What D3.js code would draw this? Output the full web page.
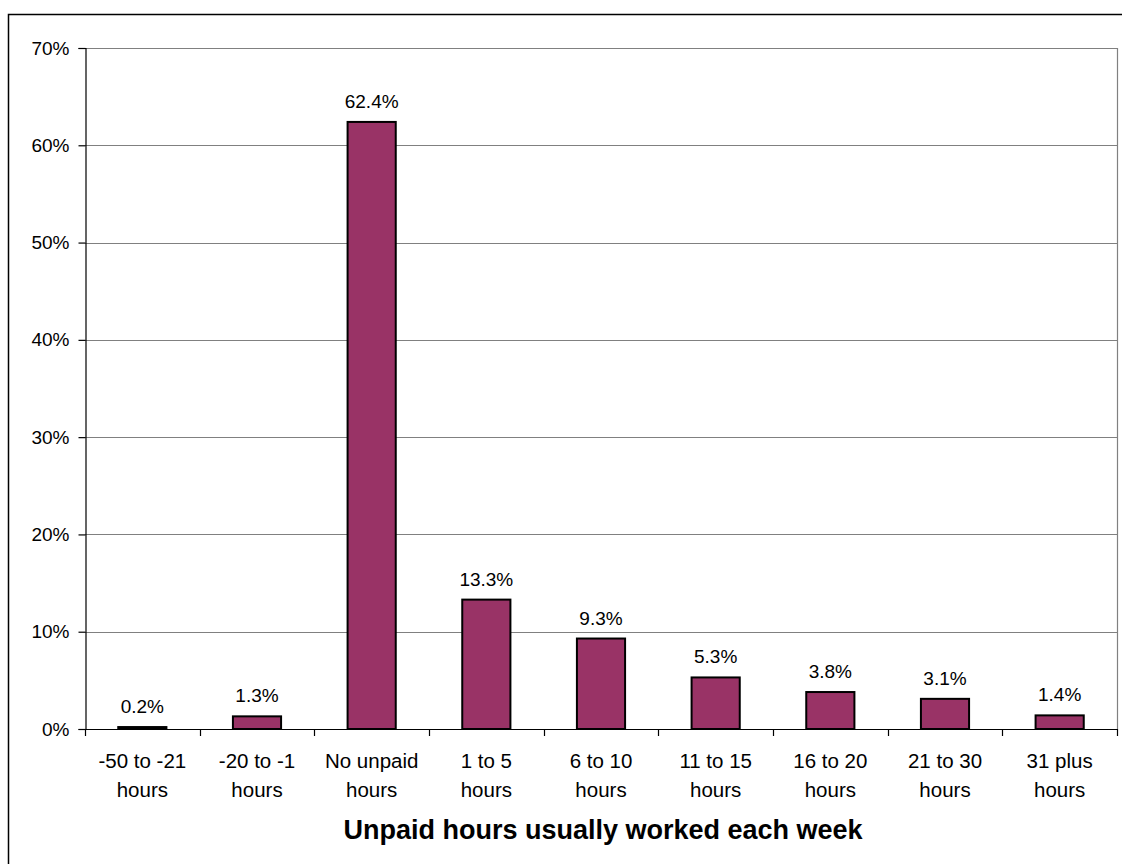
<!DOCTYPE html>
<html>
<head>
<meta charset="utf-8">
<script src="https://cdn.jsdelivr.net/npm/d3@7"></script>
<style>
  html, body { margin: 0; padding: 0; background: #fff; }
  svg { display: block; font-family: "Liberation Sans", Arial, sans-serif; }
</style>
</head>
<body>
<svg id="chart" width="1122" height="864"></svg>
<script>
// Share of employees by unpaid hours usually worked each week
const categories = [
  ["-50 to -21", "hours"],
  ["-20 to -1", "hours"],
  ["No unpaid", "hours"],
  ["1 to 5", "hours"],
  ["6 to 10", "hours"],
  ["11 to 15", "hours"],
  ["16 to 20", "hours"],
  ["21 to 30", "hours"],
  ["31 plus", "hours"]
];
const shares = [0.2, 1.3, 62.4, 13.3, 9.3, 5.3, 3.8, 3.1, 1.4];
const yTicks = [0, 10, 20, 30, 40, 50, 60, 70];
const xTitle = "Unpaid hours usually worked each week";

const svg = d3.select("#chart");
const plotLeft = 85, plotRight = 1117, plotTop = 48, plotBottom = 729;

// Outer frame (runs off the right and bottom edges)
svg.append("rect")
  .attr("x", 8.5).attr("y", 14.5)
  .attr("width", 1200).attr("height", 1000)
  .attr("fill", "none").attr("stroke", "#000").attr("stroke-width", 1.5);

const keys = categories.map((c, i) => i);
const x = d3.scaleBand().domain(keys).range([plotLeft, plotRight]).paddingInner(0.58).paddingOuter(0.29);
const xb = d3.scaleBand().domain(keys).range([plotLeft, plotRight]);
const y = d3.scaleLinear().domain([0, 70]).range([plotBottom, plotTop]);

// Horizontal gridlines
svg.append("g")
  .selectAll("line")
  .data(yTicks.filter(t => t > 0))
  .join("line")
  .attr("x1", plotLeft).attr("x2", plotRight)
  .attr("y1", d => Math.round(y(d)) + 0.5).attr("y2", d => Math.round(y(d)) + 0.5)
  .attr("stroke", "#808080").attr("stroke-width", 1.2);

// Right edge of the plot area
svg.append("line")
  .attr("x1", plotRight + 0.5).attr("x2", plotRight + 0.5)
  .attr("y1", plotTop).attr("y2", plotBottom)
  .attr("stroke", "#808080").attr("stroke-width", 1.2);

// Y axis
const yAxis = d3.axisLeft(y).tickValues(yTicks).tickFormat(d => d + "%").tickSize(7).tickPadding(9);
const gy = svg.append("g").attr("transform", `translate(${plotLeft + 0.5},0)`).call(yAxis);
gy.select(".domain").attr("stroke", "#000").attr("stroke-width", 1.2);
gy.selectAll(".tick line").attr("stroke", "#000").attr("stroke-width", 1.2);
gy.selectAll(".tick text").attr("font-size", 19).attr("fill", "#000")
  .attr("font-family", "Liberation Sans, Arial, sans-serif");

// Bars
svg.append("g")
  .selectAll("rect")
  .data(shares)
  .join("rect")
  .attr("x", (d, i) => x(i))
  .attr("y", d => y(d))
  .attr("width", x.bandwidth())
  .attr("height", d => plotBottom - y(d))
  .attr("fill", "#993366")
  .attr("stroke", "#000").attr("stroke-width", 2);

// Value labels
svg.append("g")
  .selectAll("text")
  .data(shares)
  .join("text")
  .attr("x", (d, i) => x(i) + x.bandwidth() / 2)
  .attr("y", d => y(d) - 14)
  .attr("text-anchor", "middle")
  .attr("font-size", 19)
  .attr("fill", "#000")
  .text(d => d.toFixed(1) + "%");

// X axis line and category boundary ticks
svg.append("line")
  .attr("x1", plotLeft).attr("x2", plotRight + 1)
  .attr("y1", plotBottom + 0.5).attr("y2", plotBottom + 0.5)
  .attr("stroke", "#000").attr("stroke-width", 1.2);
const boundaries = keys.map(k => xb(k)).concat([plotRight]);
svg.append("g")
  .selectAll("line")
  .data(boundaries)
  .join("line")
  .attr("x1", d => Math.round(d) + 0.5).attr("x2", d => Math.round(d) + 0.5)
  .attr("y1", plotBottom).attr("y2", plotBottom + 7)
  .attr("stroke", "#000").attr("stroke-width", 1.2);

// Category labels (two lines each)
const cat = svg.append("g")
  .selectAll("text")
  .data(categories)
  .join("text")
  .attr("text-anchor", "middle")
  .attr("font-size", 20.5)
  .attr("fill", "#000");
cat.each(function(c, i) {
  const t = d3.select(this);
  const cx = xb(i) + xb.bandwidth() / 2;
  t.append("tspan").attr("x", cx).attr("y", 768).text(c[0]);
  t.append("tspan").attr("x", cx).attr("y", 797).text(c[1]);
});

// X axis title
svg.append("text")
  .attr("x", (plotLeft + plotRight) / 2 + 2)
  .attr("y", 839)
  .attr("text-anchor", "middle")
  .attr("font-size", 27)
  .attr("font-weight", "bold")
  .attr("fill", "#000")
  .text(xTitle);
</script>
</body>
</html>
